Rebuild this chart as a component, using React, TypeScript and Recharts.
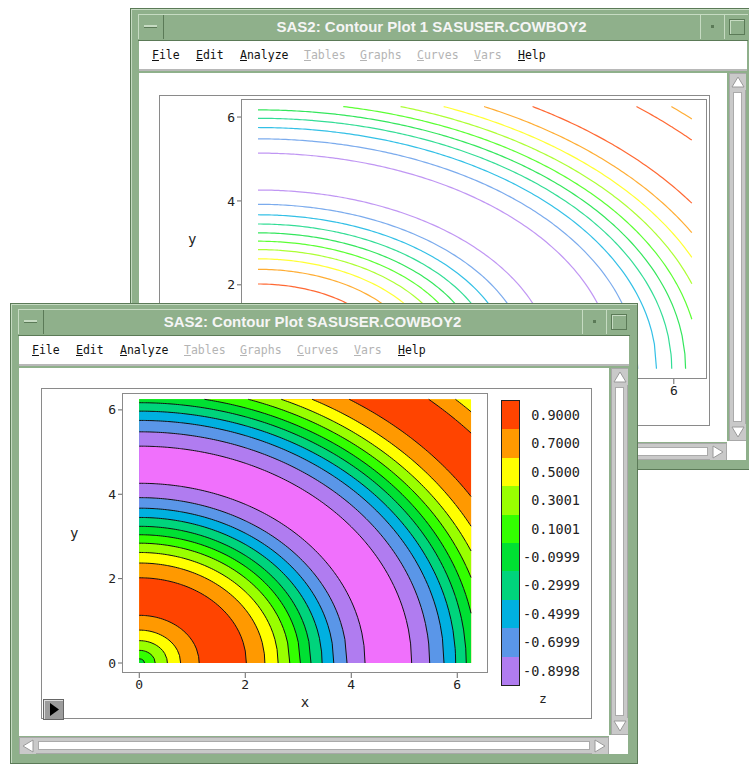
import React from "react";
import { ComposedChart, Area, Line, XAxis, YAxis } from "recharts";

// ---- data ----
const X_MAX = 6.26;
const Y_MAX = 6.25;
const AXIS_TICKS = [0, 2, 4, 6];

const LEVEL_VALUES = [0.9, 0.7, 0.5, 0.3, 0.1, -0.1, -0.3, -0.5, -0.7, -0.9];
const LEVEL_LABELS = ["0.9000", "0.7000", "0.5000", "0.3001", "0.1001", "-0.0999", "-0.2999", "-0.4999", "-0.6999", "-0.8998"];
const LEVEL_COLORS = ["#ff4400", "#ff9900", "#ffff00", "#99ff00", "#33ff00", "#00e033", "#00d47c", "#00b0e0", "#5a96e8", "#b07cf0"];
const MAGENTA = "#f070fc";

// contour radii (distance from origin), read along the axes, inner to outer
const CONTOUR_R = [0.1, 0.3, 0.53, 0.78, 1.13, 2.02, 2.37, 2.62, 2.84, 3.04, 3.24, 3.45, 3.67, 3.92, 4.26, 5.14, 5.48, 5.75, 5.97, 6.17, 6.37, 6.58, 6.8, 7.05, 7.4, 8.3, 8.64];
// z level of each contour
const CONTOUR_Z = [0.1, 0.3, 0.5, 0.7, 0.9, 0.9, 0.7, 0.5, 0.3, 0.1, -0.1, -0.3, -0.5, -0.7, -0.9, -0.9, -0.7, -0.5, -0.3, -0.1, 0.1, 0.3, 0.5, 0.7, 0.9, 0.9, 0.7];
// fill of the band just inside each contour; the last one is the rest of the plot
const [RED, ORANGE, YELLOW, LIME, BRIGHT, GREEN, TEAL, CYAN, CORN, LAV] = LEVEL_COLORS;
const BAND_COLORS = [
  GREEN, BRIGHT, LIME, YELLOW, ORANGE, RED, ORANGE, YELLOW, LIME, BRIGHT, GREEN, TEAL, CYAN, CORN, LAV,
  MAGENTA, LAV, CORN, CYAN, TEAL, GREEN, BRIGHT, LIME, YELLOW, ORANGE, RED, ORANGE, YELLOW,
];
const OUTER_R = 99;

const MENU = [
  { label: "File", on: true },
  { label: "Edit", on: true },
  { label: "Analyze", on: true },
  { label: "Tables", on: false },
  { label: "Graphs", on: false },
  { label: "Curves", on: false },
  { label: "Vars", on: false },
  { label: "Help", on: true },
];
const MENU_X = [21, 65, 109, 173, 229, 286, 343, 387];

// ---- table for the chart: each contour arc sampled over x ----
const xs: number[] = [];
for (let i = 0; i * 0.04 < X_MAX; i++) xs.push(Math.round(i * 4) / 100);
xs.push(X_MAX);
CONTOUR_R.forEach((r) => {
  if (r < X_MAX) xs.push(r);
  if (r > Y_MAX) {
    const c = Math.sqrt(r * r - Y_MAX * Y_MAX);
    if (c < X_MAX) xs.push(c);
  }
});
const X_SAMPLES = Array.from(new Set(xs)).sort((a, b) => a - b);
const BAND_R = [...CONTOUR_R, OUTER_R];

const rows = X_SAMPLES.map((x) => {
  const row: Record<string, number | null> = { x };
  BAND_R.forEach((r, i) => {
    row[`f${i}`] = x > r ? null : Math.min(Math.sqrt(Math.max(r * r - x * x, 0)), Y_MAX);
  });
  CONTOUR_R.forEach((r, i) => {
    if (x > r) {
      row[`c${i}`] = null;
      return;
    }
    const y = Math.sqrt(Math.max(r * r - x * x, 0));
    row[`c${i}`] = y > Y_MAX + 1e-6 ? null : Math.min(y, Y_MAX);
  });
  return row;
});

const levelColor = (z: number) => LEVEL_COLORS[LEVEL_VALUES.indexOf(z)];

// ---- styles ----
const WGREEN = "#8fb08b";
const WDARK = "#5b7a57";
const WLIGHT = "#c6dbc2";
const MONO = "'DejaVu Sans Mono', monospace";
const tickStyle = { fill: "#222", fontSize: 13, fontFamily: MONO };

function Arrow({ dir }: { dir: "up" | "down" | "left" | "right" }) {
  const pts = {
    up: "8,3 14,13 2,13",
    down: "2,3 14,3 8,13",
    left: "3,8 13,2 13,14",
    right: "13,8 3,2 3,14",
  }[dir];
  return (
    <svg width={16} height={16} style={{ display: "block", background: "#c9c9c9" }}>
      <polygon points={pts} fill="#fff" stroke="#9a9a9a" strokeWidth={1} />
    </svg>
  );
}

function Win({ left, top, width, height, title, children }: any) {
  return (
    <div
      style={{
        position: "absolute", left, top, width, height, background: WGREEN,
        boxSizing: "border-box", border: `1px solid ${WDARK}`, boxShadow: `inset 1px 1px 0 ${WLIGHT}`,
      }}
    >
      {/* title bar */}
      <div style={{ position: "absolute", left: 7, right: 7, top: 5, height: 25, borderTop: `1px solid ${WLIGHT}`, borderBottom: `1px solid ${WDARK}` }}>
        <div style={{ position: "absolute", left: 0, top: 0, width: 24, height: 24, borderRight: `1px solid ${WDARK}`, borderLeft: `1px solid ${WLIGHT}` }}>
          <div style={{ position: "absolute", left: 5, top: 10, width: 13, height: 2, background: WLIGHT, borderBottom: `1px solid ${WDARK}` }} />
        </div>
        <div
          style={{
            position: "absolute", left: 25, right: 48, top: 0, height: 24, lineHeight: "24px", textAlign: "center",
            color: "#f5f5f5", fontFamily: "'Liberation Sans', Arial, sans-serif", fontWeight: "bold", fontSize: 15, whiteSpace: "nowrap",
          }}
        >
          {title}
        </div>
        <div style={{ position: "absolute", right: 23, top: 0, width: 23, height: 24, borderLeft: `1px solid ${WLIGHT}`, borderRight: `1px solid ${WDARK}` }}>
          <div style={{ position: "absolute", left: 10, top: 10, width: 3, height: 3, background: WDARK }} />
        </div>
        <div style={{ position: "absolute", right: 0, top: 0, width: 23, height: 24, borderLeft: `1px solid ${WLIGHT}` }}>
          <div style={{ position: "absolute", left: 4, top: 4, width: 14, height: 14, border: `1px solid ${WDARK}`, boxShadow: `inset 1px 1px 0 ${WLIGHT}` }} />
        </div>
      </div>
      {/* menu bar */}
      <div style={{ position: "absolute", left: 8, right: 8, top: 32, height: 30, background: "#fff", borderBottom: "2px solid #b8b8b8", boxSizing: "border-box" }}>
        {MENU.map((m, i) => (
          <span
            key={m.label}
            style={{
              position: "absolute", left: MENU_X[i] - 8, top: 7, fontFamily: MONO, fontSize: 11.5,
              color: m.on ? "#111" : "#b4b4b4", whiteSpace: "nowrap",
            }}
          >
            <u>{m.label[0]}</u>
            {m.label.slice(1)}
          </span>
        ))}
      </div>
      {/* content */}
      <div style={{ position: "absolute", left: 8, right: 28, top: 64, bottom: 27, background: "#fff" }} />
      {/* vertical scrollbar */}
      <div style={{ position: "absolute", right: 9, width: 17, top: 64, bottom: 28, background: "#c9c9c9", border: "1px solid #a8a8a8", boxSizing: "border-box" }}>
        <Arrow dir="up" />
        <div style={{ position: "absolute", left: 3, right: 3, top: 18, bottom: 18, background: "#fff", border: "1px solid #aaa" }} />
        <div style={{ position: "absolute", bottom: 0 }}>
          <Arrow dir="down" />
        </div>
      </div>
      {/* horizontal scrollbar */}
      <div style={{ position: "absolute", left: 8, right: 28, height: 17, bottom: 9, background: "#c9c9c9", border: "1px solid #a8a8a8", boxSizing: "border-box" }}>
        <Arrow dir="left" />
        <div style={{ position: "absolute", left: 18, right: 18, top: 3, bottom: 3, background: "#fff", border: "1px solid #aaa" }} />
        <div style={{ position: "absolute", right: 0, top: 0 }}>
          <Arrow dir="right" />
        </div>
      </div>
      <div style={{ position: "absolute", right: 9, width: 19, height: 19, bottom: 9, background: "#fff" }} />
      {children}
    </div>
  );
}

const box = (l: number, t: number, w: number, h: number, border = "1px solid #8a8a8a") => ({
  position: "absolute" as const, left: l, top: t, width: w, height: h, border, boxSizing: "border-box" as const,
});

function LinePlot() {
  return (
    <ComposedChart width={539} height={333} data={rows} margin={{ top: 13, right: 3, bottom: 0, left: 0 }}>
      <XAxis
        type="number" dataKey="x" domain={[-0.245, 6.479]} ticks={AXIS_TICKS} allowDataOverflow
        axisLine={false} tickSize={5} tickLine={{ stroke: "#666" }} tick={tickStyle} height={40}
        label={{ value: "x", position: "insideBottom", offset: 6, fill: "#222", fontSize: 13, fontFamily: MONO }}
      />
      <YAxis
        type="number" domain={[-0.245, 6.43]} ticks={AXIS_TICKS} allowDataOverflow
        axisLine={false} tickSize={4} tickLine={{ stroke: "#666" }} tick={tickStyle} width={70}
        label={{ value: "y", position: "insideLeft", offset: 17, fill: "#222", fontSize: 14, fontFamily: MONO }}
      />
      {CONTOUR_R.map((r, i) => (
        <Line
          key={`c${i}`} dataKey={`c${i}`} type="linear" stroke={levelColor(CONTOUR_Z[i])} strokeOpacity={0.8}
          strokeWidth={1.2} dot={false} activeDot={false} isAnimationActive={false}
        />
      ))}
    </ComposedChart>
  );
}

function FilledPlot() {
  const order = BAND_R.map((_, i) => i).reverse();
  return (
    <ComposedChart width={432} height={332} data={rows} margin={{ top: 12, right: 5, bottom: 0, left: 0 }}>
      <XAxis
        type="number" dataKey="x" domain={[-0.326, 6.58]} ticks={AXIS_TICKS} allowDataOverflow
        axisLine={false} tickSize={5} tickLine={{ stroke: "#666" }} tick={tickStyle} height={40}
        label={{ value: "x", position: "insideBottom", offset: 6, fill: "#222", fontSize: 14, fontFamily: MONO }}
      />
      <YAxis
        type="number" domain={[-0.237, 6.4]} ticks={AXIS_TICKS} allowDataOverflow
        axisLine={false} tickSize={4} tickLine={{ stroke: "#666" }} tick={tickStyle} width={61}
        label={{ value: "y", position: "insideLeft", offset: 9, fill: "#222", fontSize: 14, fontFamily: MONO }}
      />
      {order.map((i) => (
        <Area
          key={`f${i}`} dataKey={`f${i}`} type="linear" baseValue={0} stroke="none" fill={BAND_COLORS[i]}
          fillOpacity={1} dot={false} activeDot={false} isAnimationActive={false}
        />
      ))}
      {CONTOUR_R.map((r, i) => (
        <Line
          key={`c${i}`} dataKey={`c${i}`} type="linear" stroke="#111" strokeWidth={1}
          dot={false} activeDot={false} isAnimationActive={false}
        />
      ))}
    </ComposedChart>
  );
}

export default function App() {
  return (
    <div style={{ position: "absolute", left: 0, top: 0, width: 749, height: 764, overflow: "hidden", background: "#fff" }}>
      <Win left={130} top={8} width={626} height={462} title="SAS2: Contour Plot 1 SASUSER.COWBOY2">
        <div style={box(28, 86, 551, 331)} />
        <div style={box(110, 90, 466, 280)} />
        <div style={{ position: "absolute", left: 40, top: 77 }}>
          <LinePlot />
        </div>
      </Win>
      <Win left={10} top={303} width={628} height={461} title="SAS2: Contour Plot SASUSER.COWBOY2">
        <div style={box(30, 84, 551, 331)} />
        <div style={box(111, 89, 366, 280)} />
        <div style={{ position: "absolute", left: 50, top: 77 }}>
          <FilledPlot />
        </div>
        {/* colour legend */}
        <div style={{ ...box(490, 96, 19, 286, "1px solid #222") }}>
          {LEVEL_COLORS.map((c) => (
            <div key={c} style={{ height: 28.4, background: c }} />
          ))}
        </div>
        {LEVEL_LABELS.map((t, i) => (
          <div
            key={t}
            style={{
              position: "absolute", left: 512, top: 97 + i * 28.4, height: 28.4, lineHeight: "28.4px",
              fontFamily: MONO, fontSize: 13.5, color: "#222", whiteSpace: "pre",
            }}
          >
            {t.startsWith("-") ? t : " " + t}
          </div>
        ))}
        <div style={{ position: "absolute", left: 528, top: 387, fontFamily: MONO, fontSize: 13, color: "#222" }}>z</div>
        {/* play button */}
        <div style={{ ...box(32, 395, 21, 21, "1px solid #666"), background: "#9c9c9c", boxShadow: "inset 1px 1px 0 #ddd" }}>
          <svg width={19} height={19} style={{ display: "block" }}>
            <polygon points="6,3 15,9.5 6,16" fill="#000" />
          </svg>
        </div>
      </Win>
    </div>
  );
}
